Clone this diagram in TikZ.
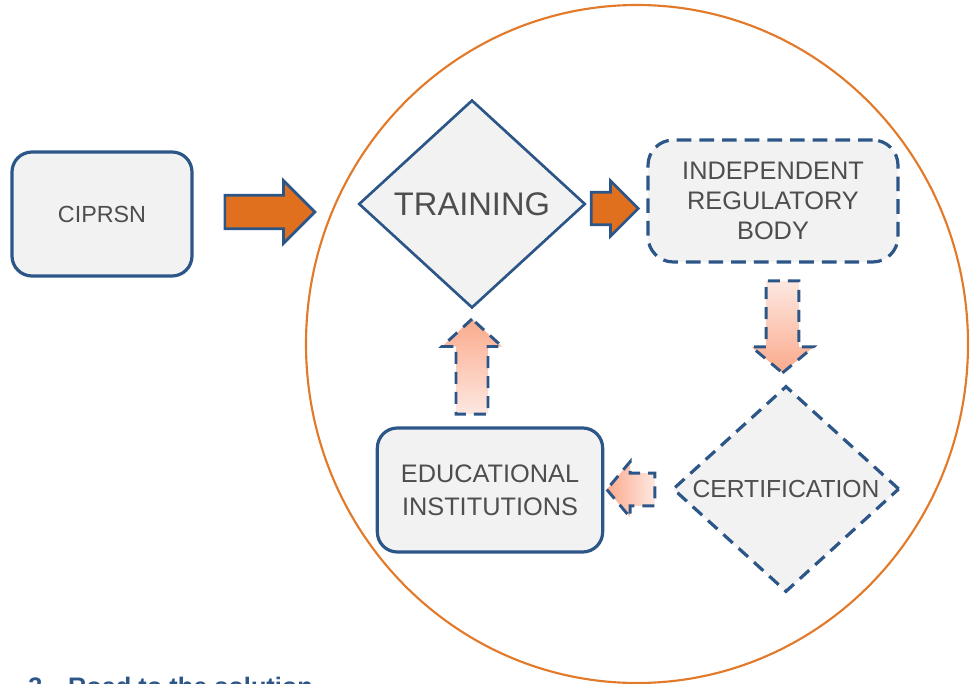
\documentclass[tikz,border=0pt]{standalone}
\usepackage{fontspec}
\setmainfont{Liberation Sans}
\usepackage{tikz}
\usetikzlibrary{calc}
\usetikzlibrary{positioning,shapes.geometric,shapes.arrows}

\definecolor{frame}{RGB}{44,86,135}
\definecolor{boxfill}{RGB}{242,242,242}
\definecolor{inkgray}{RGB}{78,78,78}
\definecolor{ringorange}{RGB}{226,122,42}
\definecolor{push}{RGB}{224,112,30}
\definecolor{pale}{RGB}{253,232,225}
\definecolor{salmon}{RGB}{251,170,140}

\tikzset{
	roundbox/.style={draw=frame,fill=boxfill,line width=2.4pt,rounded corners=15pt,text=inkgray,align=center},
	dashbox/.style={roundbox,rounded corners=19pt,dash pattern=on 11pt off 6pt},
	gem/.style={diamond,draw=frame,fill=boxfill,line width=2pt,inner sep=0pt,text=inkgray,align=center},
	solidarrow/.style={single arrow,draw=frame,fill=push,line width=2pt,minimum width=0pt,inner xsep=1pt},
	fadearrow/.style={single arrow,draw=frame,line width=2.2pt,dash pattern=on 9pt off 6pt,minimum width=0pt,inner xsep=1pt}
}

\begin{document}
\begin{tikzpicture}[x=0.75pt,y=-0.75pt]
		\useasboundingbox (0,0) rectangle (976,684);
		\node[ellipse,draw=ringorange,line width=1.6pt,minimum width=496.5pt,minimum height=508.5pt] (ring) at (637,344) {};
		\node[roundbox,minimum width=135pt,minimum height=93pt,font=\fontsize{17.5}{21}\selectfont] (cip) at (102,214) {CIPRSN};
		\node[gem,minimum width=170pt,minimum height=156pt,font=\fontsize{24.5}{29}\selectfont] (train) at (472,204) {TRAINING};
		\node[dashbox,minimum width=187.5pt,minimum height=91.5pt,font=\fontsize{19}{22.5}\selectfont] (body) at (773,201) {INDEPENDENT\\REGULATORY\\BODY};
		\node[gem,dash pattern=on 9.5pt off 6pt,line width=2.4pt,minimum width=170pt,minimum height=154.5pt,font=\fontsize{18.5}{22}\selectfont] (cert) at (786,489) {CERTIFICATION};
		\node[roundbox,minimum width=169pt,minimum height=93pt,font=\fontsize{19}{24.75}\selectfont] (edu) at (490,490) {EDUCATIONAL\\INSTITUTIONS};
		% block arrows
		\node[solidarrow,inner ysep=11.6pt,single arrow head extend=10.9pt,minimum height=67.5pt] (go) at ($(cip.east)!0.5!(train.west)+(-14,3)$) {};
		\node[solidarrow,inner ysep=11.2pt,single arrow head extend=8.6pt,minimum height=35.25pt] (pass) at ($(train.east)!0.5!(body.west)+(-10,6)$) {};
		\node[fadearrow,rotate=-90,top color=pale,bottom color=salmon,inner ysep=11.2pt,single arrow head extend=10.9pt,single arrow tip angle=100,minimum height=69pt] (down) at ($(body.south)!0.5!(cert.north)+(3,-4)$) {};
		\node[fadearrow,rotate=180,left color=salmon,right color=pale,inner ysep=11.2pt,single arrow head extend=8.6pt,single arrow tip angle=100,minimum height=36pt] (back) at ($(cert.west)!0.5!(edu.east)$) {};
		\node[fadearrow,rotate=90,top color=salmon,bottom color=pale,inner ysep=10.9pt,single arrow head extend=10.5pt,single arrow tip angle=95,minimum height=71.25pt] (up) at ($(train.south)!0.5!(train.south |- edu.north)+(0,6)$) {};
		% cut-off heading
		\node[anchor=base west,inner sep=0pt,text=frame,font=\bfseries\fontsize{19}{22}\selectfont] (note) at (28,695) {3.\hspace{14pt}Road to the solution};
	\end{tikzpicture}
\end{document}
